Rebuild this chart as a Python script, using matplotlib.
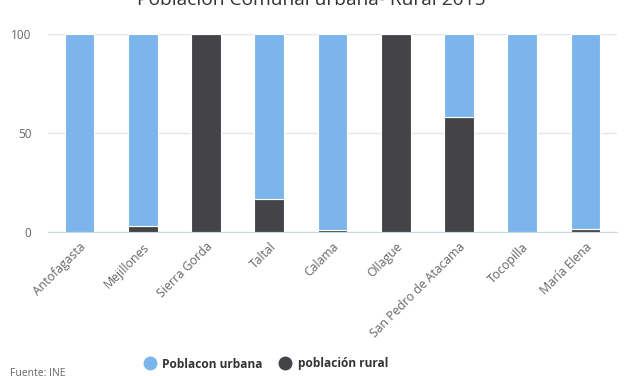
import numpy as np
import matplotlib.pyplot as plt
from matplotlib.lines import Line2D

# --- Data ---
comunas = ['Antofagasta', 'Mejillones', 'Sierra Gorda', 'Taltal', 'Calama',
           'Ollague', 'San Pedro de Atacama', 'Tocopilla', 'María Elena']
rural = np.array([0.0, 3.0, 100.0, 16.8, 1.0, 100.0, 58.2, 0.0, 1.5])
urbana = 100.0 - rural

URBAN_COLOR = '#7cb5ec'
RURAL_COLOR = '#434348'

plt.rcParams['font.family'] = ['Open Sans', 'DejaVu Sans']

fig = plt.figure(figsize=(6.27, 3.76), dpi=100)
ax = fig.add_axes([48 / 627, 1 - 232 / 376, 569 / 627, 198 / 376])

x = np.arange(len(comunas))
width = 0.47
ax.bar(x, rural, width, color=RURAL_COLOR, edgecolor='white', linewidth=0.8, zorder=3)
ax.bar(x, urbana, width, bottom=rural, color=URBAN_COLOR, edgecolor='white',
       linewidth=0.8, zorder=3)

ax.set_xlim(-0.5, len(comunas) - 0.5)
ax.set_ylim(0, 100)
ax.set_yticks([0, 50, 100])
ax.yaxis.grid(True, color='#e6e6e6', linewidth=1, zorder=0)
ax.tick_params(axis='y', length=0, labelsize=8.5, labelcolor='#666666', pad=12)
ax.tick_params(axis='x', length=0, labelsize=8.8, labelcolor='#666666', pad=6)
ax.set_xticks(x)
ax.set_xticklabels(comunas, rotation=45, ha='right', rotation_mode='anchor')
for side in ['top', 'right', 'left']:
    ax.spines[side].set_visible(False)
ax.spines['bottom'].set_color('#ccd6eb')

# Title (partially cut off at the top, as in the source)
fig.text(311 / 627, 1 - 5 / 376, 'Población Comunal urbana- Rural 2015',
         ha='center', va='baseline', fontsize=13.8, color='#333333')

# Legend
handles = [Line2D([], [], marker='o', linestyle='', markersize=9, color=URBAN_COLOR),
           Line2D([], [], marker='o', linestyle='', markersize=9, color=RURAL_COLOR)]
leg = fig.legend(handles, ['Poblacon urbana', 'población rural'], loc='center',
                 bbox_to_anchor=(263 / 627, 1 - 364 / 376), ncol=2, frameon=False,
                 handletextpad=0.05, columnspacing=0.9,
                 prop={'weight': 'bold', 'size': 8.6})
for t in leg.get_texts():
    t.set_color('#333333')

fig.text(10 / 627, 1 - 374 / 376, 'Fuente: INE', ha='left', va='center',
         fontsize=7.5, color='#666666')

fig.savefig('out.png', dpi=100)
